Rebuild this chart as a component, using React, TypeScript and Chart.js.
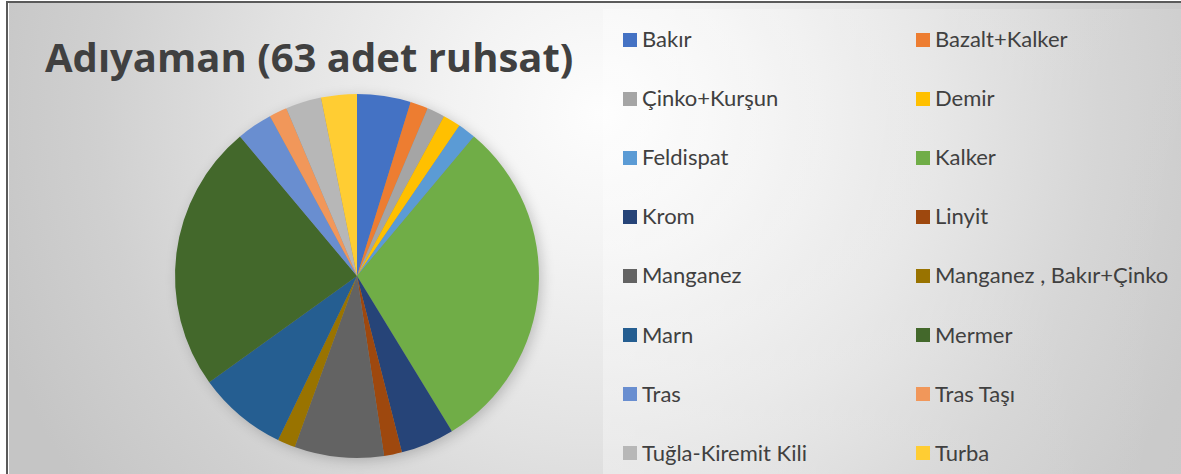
import React, { useEffect, useRef } from "react";
import { Chart, registerables } from "chart.js";

Chart.register(...registerables);

const categories: string[] = [
  "Bakır",
  "Bazalt+Kalker",
  "Çinko+Kurşun",
  "Demir",
  "Feldispat",
  "Kalker",
  "Krom",
  "Linyit",
  "Manganez",
  "Manganez , Bakır+Çinko",
  "Marn",
  "Mermer",
  "Tras",
  "Tras Taşı",
  "Tuğla-Kiremit Kili",
  "Turba",
];

const permitCounts: number[] = [3, 1, 1, 1, 1, 19, 3, 1, 5, 1, 5, 15, 2, 1, 2, 2];

const sliceColors: string[] = [
  "#4472C4",
  "#ED7D31",
  "#A5A5A5",
  "#FFC000",
  "#5B9BD5",
  "#70AD47",
  "#264478",
  "#9E480E",
  "#636363",
  "#997300",
  "#255E91",
  "#43682B",
  "#698ED0",
  "#F1975A",
  "#B7B7B7",
  "#FFCD33",
];

const titleText = "Adıyaman (63 adet ruhsat)";

const shadowPlugin = {
  id: "pieShadow",
  beforeDatasetsDraw(chart: any) {
    const meta = chart.getDatasetMeta(0);
    const arc = meta.data[0];
    if (!arc) return;
    const { x, y, outerRadius } = arc.getProps(["x", "y", "outerRadius"], true);
    const ctx = chart.ctx;
    ctx.save();
    ctx.shadowColor = "rgba(0,0,0,0.22)";
    ctx.shadowBlur = 14;
    ctx.shadowOffsetX = 3;
    ctx.shadowOffsetY = 3;
    ctx.fillStyle = "#888";
    ctx.beginPath();
    ctx.arc(x, y, outerRadius - 1, 0, Math.PI * 2);
    ctx.fill();
    ctx.restore();
  },
};

export default function App() {
  const canvasRef = useRef<HTMLCanvasElement | null>(null);

  useEffect(() => {
    if (!canvasRef.current) return;
    const chart = new Chart(canvasRef.current, {
      type: "pie",
      data: {
        labels: categories,
        datasets: [
          {
            data: permitCounts,
            backgroundColor: sliceColors,
            borderWidth: 0,
          },
        ],
      },
      options: {
        animation: false,
        responsive: true,
        maintainAspectRatio: false,
        layout: { padding: 20 },
        plugins: {
          legend: { display: false },
          title: { display: false },
          tooltip: { enabled: false },
        },
      },
      plugins: [shadowPlugin],
    });
    return () => chart.destroy();
  }, []);

  const rowTop = 39;
  const rowGap = 59.1;

  return (
    <div
      style={{
        position: "absolute",
        left: 0,
        top: 0,
        width: 1181,
        height: 474,
        overflow: "hidden",
        background: "#ffffff",
        fontFamily: "Lato, 'Open Sans', sans-serif",
      }}
    >
      {/* frame lines */}
      <div style={{ position: "absolute", left: 6, top: 1, width: 1175, height: 2, background: "#5a5a5a" }} />
      <div style={{ position: "absolute", left: 6, top: 1, width: 2, height: 473, background: "#5a5a5a" }} />
      {/* plot background */}
      <div
        style={{
          position: "absolute",
          left: 9,
          top: 3,
          width: 1172,
          height: 471,
          background:
            "radial-gradient(circle at 590px 110px, #fdfdfd 0px, #f3f3f3 140px, #e2e2e2 330px, #d0d0d0 500px, #c5c5c5 640px)",
        }}
      />
      {/* legend panel */}
      <div
        style={{
          position: "absolute",
          left: 603,
          top: 9,
          width: 578,
          height: 465,
          background:
            "linear-gradient(100deg, rgba(255,255,255,0.35) 0%, rgba(255,255,255,0.18) 60%, rgba(255,255,255,0.08) 100%)",
        }}
      />
      {/* title */}
      <div
        style={{
          position: "absolute",
          left: 45,
          top: 33,
          fontFamily: "'Open Sans', Lato, sans-serif",
          fontSize: 40,
          fontWeight: 700,
          color: "#404040",
          whiteSpace: "nowrap",
          lineHeight: "48px",
        }}
      >
        {titleText}
      </div>
      {/* pie */}
      <div style={{ position: "absolute", left: 155, top: 74, width: 404, height: 404 }}>
        <canvas ref={canvasRef} />
      </div>
      {/* legend */}
      {categories.map((name, i) => {
        const col = i % 2;
        const row = Math.floor(i / 2);
        const cy = rowTop + row * rowGap;
        const left = col === 0 ? 623 : 916;
        return (
          <div
            key={name}
            style={{
              position: "absolute",
              left,
              top: cy - 13,
              height: 26,
              display: "flex",
              alignItems: "center",
              whiteSpace: "nowrap",
            }}
          >
            <span
              style={{
                display: "inline-block",
                width: 14,
                height: 14,
                background: sliceColors[i],
                marginRight: 5,
                marginTop: 1,
              }}
            />
            <span style={{ fontSize: 22, color: "#404040", lineHeight: "26px" }}>{name}</span>
          </div>
        );
      })}
    </div>
  );
}
